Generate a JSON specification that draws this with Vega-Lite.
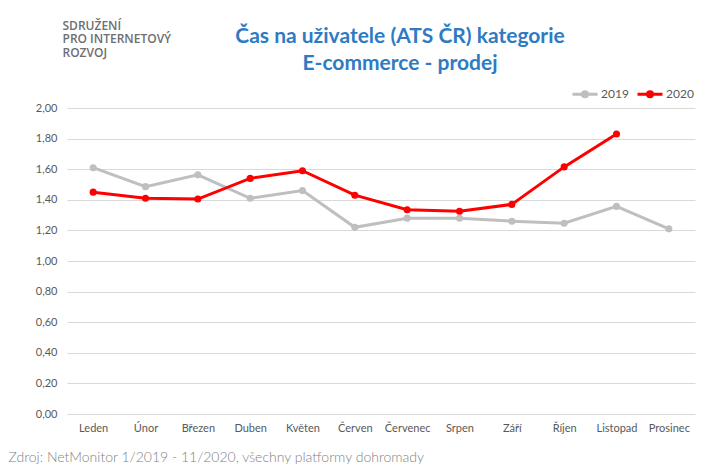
{
  "$schema": "https://vega.github.io/schema/vega-lite/v6.json",
  "width": 628,
  "height": 306,
  "autosize": {"type": "none"},
  "padding": {"left": 67, "top": 108, "right": 13, "bottom": 56},
  "background": "white",
  "title": {
    "text": ["Čas na uživatele (ATS ČR) kategorie", "E-commerce - prodej"],
    "anchor": "middle",
    "dx": 19,
    "offset": -55,
    "font": "Lato",
    "fontSize": 21,
    "fontWeight": "bold",
    "color": "#2E7BC4",
    "lineHeight": 27
  },
  "data": {
    "values": [
      {"mesic": "Leden", "rok": "2019", "hodnota": 1.61},
      {"mesic": "Únor", "rok": "2019", "hodnota": 1.486},
      {"mesic": "Březen", "rok": "2019", "hodnota": 1.563},
      {"mesic": "Duben", "rok": "2019", "hodnota": 1.41},
      {"mesic": "Květen", "rok": "2019", "hodnota": 1.46},
      {"mesic": "Červen", "rok": "2019", "hodnota": 1.22},
      {"mesic": "Červenec", "rok": "2019", "hodnota": 1.28},
      {"mesic": "Srpen", "rok": "2019", "hodnota": 1.28},
      {"mesic": "Září", "rok": "2019", "hodnota": 1.26},
      {"mesic": "Říjen", "rok": "2019", "hodnota": 1.247},
      {"mesic": "Listopad", "rok": "2019", "hodnota": 1.357},
      {"mesic": "Prosinec", "rok": "2019", "hodnota": 1.21},
      {"mesic": "Leden", "rok": "2020", "hodnota": 1.45},
      {"mesic": "Únor", "rok": "2020", "hodnota": 1.41},
      {"mesic": "Březen", "rok": "2020", "hodnota": 1.405},
      {"mesic": "Duben", "rok": "2020", "hodnota": 1.54},
      {"mesic": "Květen", "rok": "2020", "hodnota": 1.59},
      {"mesic": "Červen", "rok": "2020", "hodnota": 1.43},
      {"mesic": "Červenec", "rok": "2020", "hodnota": 1.335},
      {"mesic": "Srpen", "rok": "2020", "hodnota": 1.325},
      {"mesic": "Září", "rok": "2020", "hodnota": 1.37},
      {"mesic": "Říjen", "rok": "2020", "hodnota": 1.615},
      {"mesic": "Listopad", "rok": "2020", "hodnota": 1.83}
    ]
  },
  "encoding": {
    "x": {
      "field": "mesic",
      "type": "nominal",
      "sort": ["Leden", "Únor", "Březen", "Duben", "Květen", "Červen", "Červenec", "Srpen", "Září", "Říjen", "Listopad", "Prosinec"],
      "scale": {"paddingInner": 0, "paddingOuter": 0},
      "axis": {
        "title": "Zdroj: NetMonitor 1/2019 - 11/2020, všechny platformy dohromady",
        "titleAnchor": "start",
        "titleAlign": "left",
        "titleBaseline": "middle",
        "titleX": -59,
        "titleY": 43,
        "titleFont": "Lato",
        "titleFontSize": 14,
        "titleFontWeight": 300,
        "titleColor": "#7F7F7F",
        "labelAngle": 0,
        "labelFont": "Lato",
        "labelFontSize": 11,
        "labelColor": "#595959",
        "labelPadding": 8,
        "ticks": false,
        "domain": false,
        "grid": false
      }
    },
    "y": {
      "field": "hodnota",
      "type": "quantitative",
      "scale": {"domain": [0, 2], "nice": false, "zero": true},
      "axis": {
        "values": [0, 0.2, 0.4, 0.6, 0.8, 1, 1.2, 1.4, 1.6, 1.8, 2],
        "labelExpr": "replace(format(datum.value, '.2f'), '.', ',')",
        "title": ["SDRUŽENÍ", "PRO INTERNETOVÝ", "ROZVOJ"],
        "titleAngle": 0,
        "titleAlign": "left",
        "titleBaseline": "top",
        "titleX": -5,
        "titleY": -88,
        "titleFont": "Open Sans",
        "titleFontSize": 12,
        "titleFontWeight": 600,
        "titleColor": "#6D6E71",
        "titleLineHeight": 13.5,
        "labelFont": "Lato",
        "labelFontSize": 11,
        "labelColor": "#595959",
        "labelPadding": 10,
        "ticks": false,
        "domain": false,
        "grid": true,
        "gridColor": "#D9D9D9",
        "gridWidth": 1
      }
    },
    "color": {
      "field": "rok",
      "type": "nominal",
      "scale": {"domain": ["2019", "2020"], "range": ["#BFBFBF", "#FF0000"]},
      "legend": {
        "title": null,
        "orient": "none",
        "direction": "horizontal",
        "legendX": 504,
        "legendY": -28,
        "symbolType": "M-1,0H1M-0.2,0A0.2,0.2 0 1,0 0.2,0A0.2,0.2 0 1,0 -0.2,0",
        "symbolSize": 625,
        "symbolStrokeWidth": 3,
        "labelFont": "Lato",
        "labelFontSize": 12,
        "labelColor": "#595959",
        "labelOffset": 2,
        "columnPadding": 2,
        "encode": {
          "symbols": {
            "update": {
              "fill": {"scale": "color", "field": "value"},
              "stroke": {"scale": "color", "field": "value"},
              "opacity": {"value": 1}
            }
          }
        }
      }
    }
  },
  "layer": [
    {
      "mark": {"type": "line", "strokeWidth": 3}
    },
    {
      "mark": {"type": "point", "filled": true, "size": 50, "opacity": 1}
    }
  ],
  "config": {
    "view": {"stroke": null}
  }
}
